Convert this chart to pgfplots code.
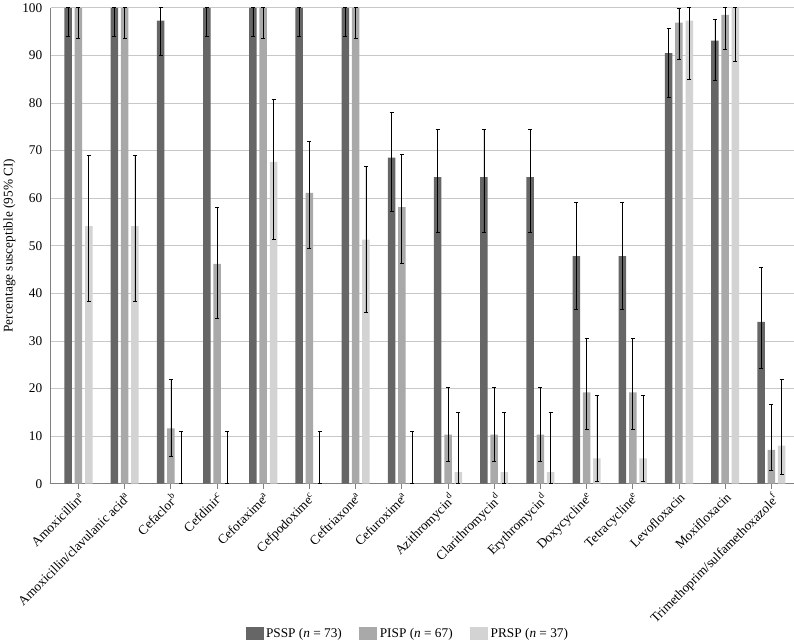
\documentclass[border=0pt]{standalone}
\usepackage{pgfplots}
\pgfplotsset{compat=1.18}
\usepackage{pgfplotstable}
\usepackage{fontspec}
\setmainfont{Liberation Serif}
\definecolor{cdark}{HTML}{666666}
\definecolor{cmid}{HTML}{A9A9A9}
\definecolor{clight}{HTML}{D3D3D3}
\definecolor{cgrid}{HTML}{C8C8C8}
\definecolor{caxis}{HTML}{808080}
\pgfplotstableread{
x v ep em
0 100 0 5.9
1 100 0 5.9
2 97.3 2.7 7.2
3 100 0 5.9
4 100 0 5.9
5 100 0 5.9
6 100 0 5.9
7 68.5 9.5 11.3
8 64.4 10.1 11.5
9 64.4 10.1 11.5
10 64.4 10.1 11.5
11 47.8 11.4 11.1
12 47.8 11.4 11.1
13 90.5 5.1 9.3
14 93.1 4.4 8.4
15 34.0 11.5 9.7
}\pssp
\pgfplotstableread{
x v ep em
0 100 0 6.5
1 100 0 6.5
2 11.6 10.3 5.8
3 46.2 11.9 11.4
4 100 0 6.5
5 61.1 10.9 11.7
6 100 0 6.5
7 58.1 11.1 11.9
8 10.3 9.9 5.6
9 10.3 9.9 5.6
10 10.3 9.9 5.6
11 19.2 11.3 7.7
12 19.2 11.3 7.7
13 96.9 2.9 7.8
14 98.5 1.5 7.2
15 7.1 9.5 4.4
}\pisp
\pgfplotstableread{
x v ep em
0 54.1 14.9 15.8
1 54.1 14.9 15.8
2 0 11.0 0
3 0 11.0 0
4 67.6 13.1 16.2
5 0 11.0 0
6 51.3 15.4 15.4
7 0 11.0 0
8 2.4 12.5 2.4
9 2.4 12.5 2.4
10 2.4 12.5 2.4
11 5.3 13.3 4.8
12 5.3 13.3 4.8
13 97.3 2.7 12.4
14 100 0 11.2
15 8.0 13.9 6.0
}\prsp
\begin{document}
\begin{tikzpicture}
\begin{axis}[
  width=743pt, height=476pt, scale only axis,
  ybar=2.8pt, bar width=7.5pt,
  xmin=-0.6, xmax=15.48, ymin=0, ymax=100,
  ytick={0,10,...,100},
  xtick={0,...,15},
  xticklabels={Amoxicillin\textsuperscript{a},Amoxicillin/clavulanic acid\textsuperscript{a},Cefaclor\textsuperscript{b},Cefdinir\textsuperscript{c},Cefotaxime\textsuperscript{a},Cefpodoxime\textsuperscript{c},Ceftriaxone\textsuperscript{a},Cefuroxime\textsuperscript{a},Azithromycin\textsuperscript{d},Clarithromycin\textsuperscript{d},Erythromycin\textsuperscript{d},Doxycycline\textsuperscript{e},Tetracycline\textsuperscript{e},Levofloxacin,Moxifloxacin,Trimethoprim/sulfamethoxazole\textsuperscript{f}},
  xticklabel style={rotate=45, anchor=north east, inner sep=2pt, font=\fontsize{13.3}{15}\selectfont},
  yticklabel style={font=\fontsize{13.3}{15}\selectfont},
  /pgf/number format/assume math mode=true,
  ylabel={Percentage susceptible (95\% CI)},
  ylabel style={font=\fontsize{13.3}{15}\selectfont},
  axis x line*=bottom, axis y line*=left,
  axis line style={caxis, line width=1pt, -},
  ymajorgrids, grid style={cgrid, line width=0.8pt},
  tick align=outside, major tick length=5pt,
  xtick style={caxis, line width=0.8pt},
  ytick style={draw=none},
  clip=false,
  legend style={at={(0.481,-0.315)}, anchor=center, draw=none, legend columns=3,
    font=\fontsize{13.3}{15}\selectfont,
    nodes={inner sep=2.5pt},
    /tikz/every even column/.append style={column sep=15pt}},
  legend image code/.code={\fill[#1] (0pt,-6.5pt) rectangle (18pt,6.5pt);},
  error bars/y dir=both, error bars/y explicit,
  error bars/error bar style={black, line width=0.7pt},
  error bars/error mark options={black, line width=0.7pt, mark size=2pt, rotate=90},
]
\addplot[fill=cdark, draw=none] table[x=x, y=v, y error plus=ep, y error minus=em]{\pssp};
\addplot[fill=cmid, draw=none] table[x=x, y=v, y error plus=ep, y error minus=em]{\pisp};
\addplot[fill=clight, draw=none] table[x=x, y=v, y error plus=ep, y error minus=em]{\prsp};
\legend{PSSP (\textit{n} = 73), PISP (\textit{n} = 67), PRSP (\textit{n} = 37)}
\end{axis}
\end{tikzpicture}
\end{document}
